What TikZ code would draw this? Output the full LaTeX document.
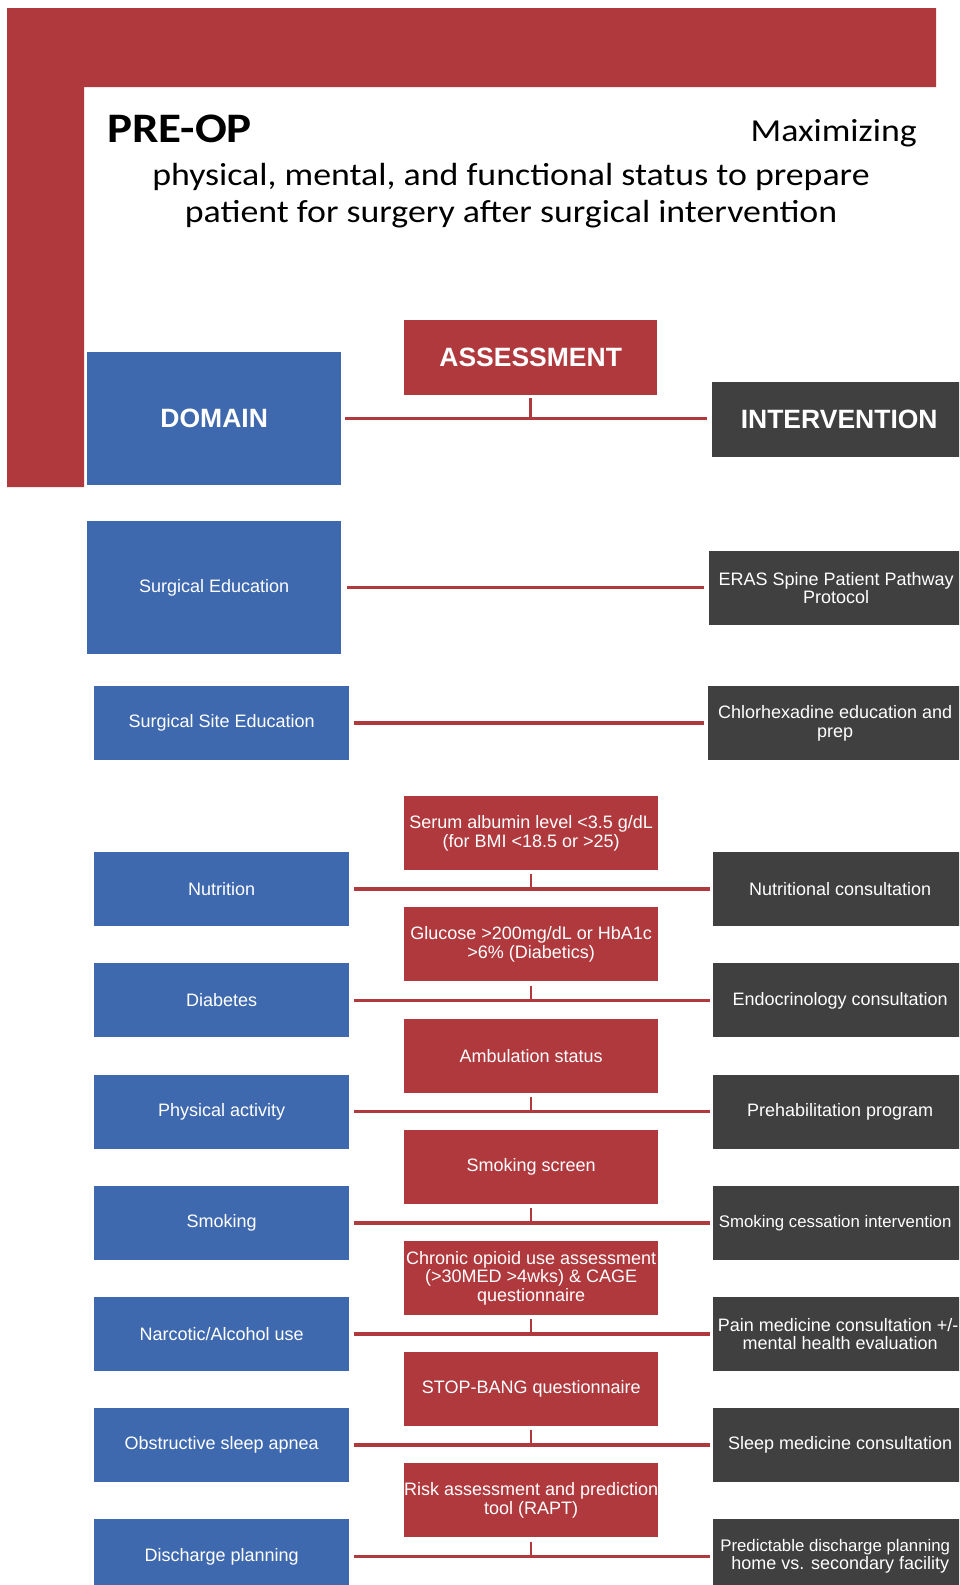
\documentclass[tikz,border=0pt]{standalone}
\usepackage{fontspec}
\setmainfont{Liberation Sans}
\newfontfamily\calfont[FakeStretch=1.12]{Carlito}
\definecolor{dblue}{RGB}{63,105,174}
\definecolor{dred}{RGB}{176,57,62}
\definecolor{dgrey}{RGB}{64,64,64}
\newcommand\ol[1]{\makebox[0pt]{#1}}
\newcommand\sm[1]{\makebox[0pt]{\fontsize{16.8}{18.5}\selectfont #1}}
\begin{document}
\begin{tikzpicture}[x=1pt,y=-1pt,
  box/.style={anchor=north west, inner sep=0pt, text=white, align=center,
    font=\fontsize{18}{18.5}\selectfont},
  dbox/.style={box, fill=dblue, minimum width=255pt, minimum height=74pt},
  abox/.style={box, fill=dred, minimum width=254pt, minimum height=74pt},
  ibox/.style={box, fill=dgrey, minimum width=254pt, minimum height=74pt},
  hdr/.style={font=\fontsize{26.5}{28}\selectfont\bfseries},
  link/.style={draw=dred, line width=3.5pt},
  stub/.style={draw=dred, line width=2.5pt}]
\fill[white] (0,0) rectangle (959,1585);
\clip (0,0) rectangle (959,1585);
\useasboundingbox (0,0) rectangle (959,1585);
% red corner band
\fill[dred] (7,8) -- (936,8) -- (936,87) -- (84,87) -- (84,487) -- (7,487) -- cycle;
% title
\node[anchor=base west, inner sep=0pt, font=\calfont\bfseries\fontsize{42}{44}\selectfont] (t1) at (107,142) {PRE-OP};
\node[anchor=base east, inner sep=0pt, font=\calfont\fontsize{32}{37}\selectfont] (t2) at (917,141) {Maximizing};
\node[anchor=base, inner sep=0pt, font=\calfont\fontsize{32}{37}\selectfont] (t3) at (511,185) {physical, mental, and functional status to prepare};
\node[anchor=base, inner sep=0pt, font=\calfont\fontsize{32}{37}\selectfont] (t4) at (511,222) {patient for surgery after surgical intervention};
% header row
\node[abox, hdr, minimum width=253pt, minimum height=75pt] (ha) at (404,320) {ASSESSMENT};
\node[dbox, hdr, minimum width=254pt, minimum height=133pt] (hd) at (87,352) {DOMAIN};
\node[ibox, hdr, minimum height=75pt] (hi) at (712,382) {\ol{INTERVENTION}};
\draw[link] ([xshift=4pt]hd.east) -- ([xshift=-5pt]hd.east -| hi.west);
\draw[stub] ([yshift=-3pt]ha.south) -- (ha.south |- hd.east);
% surgical education
\node[dbox, minimum width=254pt, minimum height=133pt] (d1) at (87,521) {Surgical Education};
\node[ibox] (i1) at (709,551) {ERAS Spine Patient Pathway\\Protocol};
\draw[link] ([xshift=6pt]d1.east) -- ([xshift=-5pt]d1.east -| i1.west);
% surgical site education
\node[dbox] (d2) at (94,686) {Surgical Site Education};
\node[ibox] (i2) at (708,686) {Chlorhexadine education and\\prep};
\draw[link] ([xshift=5pt]d2.east) -- ([xshift=-4pt]d2.east -| i2.west);
% nutrition
\node[abox] (a3) at (404,796) {Serum albumin level <3.5 g/dL\\(for BMI <18.5 or >25)};
\node[dbox] (d3) at (94,852) {Nutrition};
\node[ibox] (i3) at (713,852) {Nutritional consultation};
\draw[link] ([xshift=5pt]d3.east) -- ([xshift=-3pt]d3.east -| i3.west);
\draw[stub] ([yshift=-4pt]a3.south) -- (a3.south |- d3.east);
% diabetes
\node[abox] (a4) at (404,907.2) {Glucose >200mg/dL or HbA1c\\>6\% (Diabetics)};
\node[dbox] (d4) at (94,963.2) {Diabetes};
\node[ibox] (i4) at (713,963.2) {Endocrinology consultation};
\draw[link] ([xshift=5pt]d4.east) -- ([xshift=-3pt]d4.east -| i4.west);
\draw[stub] ([yshift=-4pt]a4.south) -- (a4.south |- d4.east);
% physical activity
\node[abox] (a5) at (404,1018.4) {Ambulation status};
\node[dbox] (d5) at (94,1074.4) {Physical activity};
\node[ibox] (i5) at (713,1074.4) {Prehabilitation program};
\draw[link] ([xshift=5pt]d5.east) -- ([xshift=-3pt]d5.east -| i5.west);
\draw[stub] ([yshift=-4pt]a5.south) -- (a5.south |- d5.east);
% smoking
\node[abox] (a6) at (404,1129.6) {Smoking screen};
\node[dbox] (d6) at (94,1185.6) {Smoking};
\node[ibox] (i6) at (713,1185.6) {\hspace*{-10pt}\sm{Smoking cessation intervention}};
\draw[link] ([xshift=5pt]d6.east) -- ([xshift=-3pt]d6.east -| i6.west);
\draw[stub] ([yshift=-4pt]a6.south) -- (a6.south |- d6.east);
% narcotic
\node[abox] (a7) at (404,1240.8) {\ol{Chronic opioid use assessment}\\(>30MED >4wks) \& CAGE\\questionnaire};
\node[dbox] (d7) at (94,1296.8) {Narcotic/Alcohol use};
\node[ibox] (i7) at (713,1296.8) {\hspace*{-4pt}\ol{Pain medicine consultation +/-}\\mental health evaluation};
\draw[link] ([xshift=5pt]d7.east) -- ([xshift=-3pt]d7.east -| i7.west);
\draw[stub] ([yshift=-4pt]a7.south) -- (a7.south |- d7.east);
% sleep apnea
\node[abox] (a8) at (404,1352) {STOP-BANG questionnaire};
\node[dbox] (d8) at (94,1408) {Obstructive sleep apnea};
\node[ibox] (i8) at (713,1408) {Sleep medicine consultation};
\draw[link] ([xshift=5pt]d8.east) -- ([xshift=-3pt]d8.east -| i8.west);
\draw[stub] ([yshift=-4pt]a8.south) -- (a8.south |- d8.east);
% discharge
\node[abox] (a9) at (404,1463.2) {\ol{Risk assessment and prediction}\\tool (RAPT)};
\node[dbox] (d9) at (94,1519.2) {Discharge planning};
\node[ibox] (i9) at (713,1519.2) {\hspace*{-10pt}\sm{Predictable discharge planning}\\home vs. secondary facility};
\draw[link] ([xshift=5pt]d9.east) -- ([xshift=-3pt]d9.east -| i9.west);
\draw[stub] ([yshift=-4pt]a9.south) -- (a9.south |- d9.east);
\end{tikzpicture}
\end{document}
